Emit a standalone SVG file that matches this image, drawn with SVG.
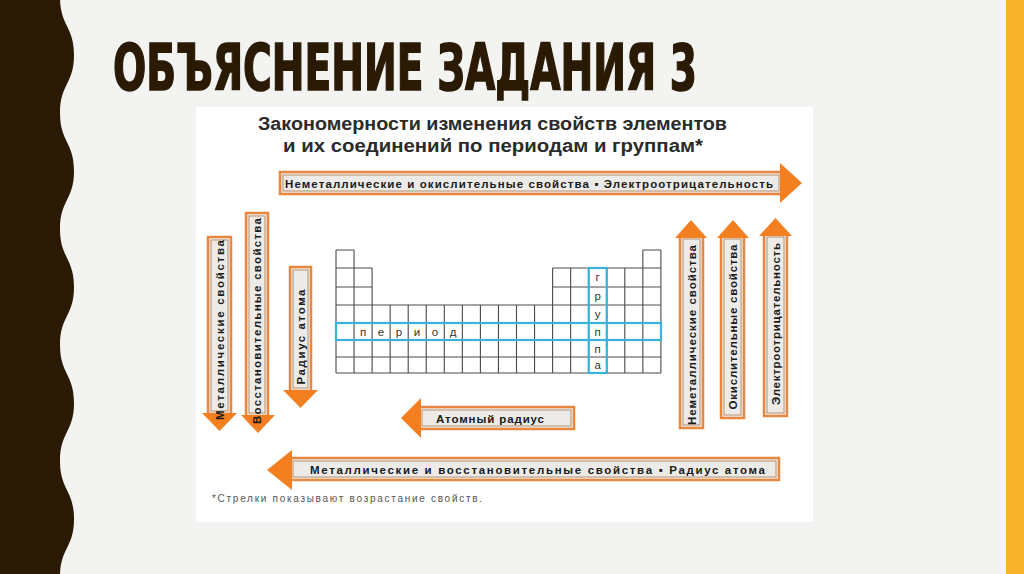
<svg xmlns="http://www.w3.org/2000/svg" width="1024" height="574" viewBox="0 0 1024 574">
<style>
.title{font-family:"DejaVu Sans Condensed","Liberation Sans Narrow","Liberation Sans",sans-serif;font-weight:900;font-size:64px;fill:#2a1a03;stroke:#2a1a03;stroke-width:1.6}
.hdr{font-family:"Liberation Sans",Arial,sans-serif;font-weight:bold;font-size:17.5px;fill:#2b2b2b}
.lbl{font-family:"Liberation Sans",Arial,sans-serif;font-weight:bold;font-size:11.5px;fill:#1a1a1a}
.cell{font-family:"Liberation Sans",Arial,sans-serif;font-size:11.5px;fill:#333}
.note{font-family:"Liberation Sans",Arial,sans-serif;font-size:10px;fill:#555}
.ab{fill:#ecebe7;stroke:#e8873f;stroke-width:2.5}
.ai{fill:none;stroke:#a86a3a;stroke-width:0.7}
.ah{fill:#f47f20}
.grid{fill:none;stroke:#4a4a4a;stroke-width:1.1}
.hl{fill:none;stroke:#3ab2dc;stroke-width:2.2}
</style>
<rect width="1024" height="574" fill="#f3f3f1"/>
<path d="M0,-3 L60,-3 C60,26 74,26 74,55 C74,84 60,84 60,113 C60,142 74,142 74,171 C74,200 60,200 60,229 C60,258 74,258 74,287 C74,316 60,316 60,345 C60,374 74,374 74,403 C74,432 60,432 60,461 C60,490 74,490 74,519 C74,548 60,548 60,577 L0,577 Z" fill="#2a1a03"/>
<rect x="1006" y="0" width="18" height="574" fill="#f7b42c"/>
<text class="title" x="113" y="90" textLength="584" lengthAdjust="spacingAndGlyphs">ОБЪЯСНЕНИЕ ЗАДАНИЯ 3</text>
<rect x="196" y="107" width="617" height="415" fill="#ffffff"/>
<g id="header">
<text class="hdr" x="258" y="130" textLength="469" lengthAdjust="spacingAndGlyphs">Закономерности изменения свойств элементов</text>
<text class="hdr" x="283" y="152" textLength="420" lengthAdjust="spacingAndGlyphs">и их соединений по периодам и группам*</text>
</g>
<g id="table">
<path class="grid" d="M336,250H354.05 M642.85,250H660.9 M336,268H372.1 M552.6,268H660.9 M336,287H372.1 M552.6,287H660.9 M336,305H660.9 M336,323H660.9 M336,340H660.9 M336,357H660.9 M336,373H660.9 M336,250V373 M354.05,250V373 M372.1,268V373 M390.15,305V373 M408.2,305V373 M426.25,305V373 M444.3,305V373 M462.35,305V373 M480.4,305V373 M498.45,305V373 M516.5,305V373 M534.55,305V373 M552.6,268V373 M570.65,268V373 M588.7,268V373 M606.75,268V373 M624.8,268V373 M642.85,250V373 M660.9,250V373"/>
<rect class="hl" x="336" y="323" width="325" height="17"/>
<rect class="hl" x="588.7" y="268" width="18.05" height="105"/>
<g class="cell" text-anchor="middle">
<text x="363" y="335.5">п</text><text x="381" y="335.5">е</text><text x="399" y="335.5">р</text><text x="417" y="335.5">и</text><text x="435" y="335.5">о</text><text x="453" y="335.5">д</text>
<text x="597.7" y="281">г</text><text x="597.7" y="300">р</text><text x="597.7" y="318">у</text><text x="597.7" y="335.5">п</text><text x="597.7" y="352.5">п</text><text x="597.7" y="369">а</text>
</g>
</g>
<g id="arrow-top">
<rect class="ab" x="280" y="172" width="502" height="22"/>
<rect class="ai" x="283" y="175" width="496" height="16"/>
<polygon class="ah" points="780,163 802,183 780,203"/>
<text class="lbl" x="285" y="187.5" textLength="488" lengthAdjust="spacing">Неметаллические и окислительные свойства ▪ Электроотрицательность</text>
</g>
<g id="arrow-metal">
<rect class="ab" x="208" y="237" width="23" height="177"/>
<rect class="ai" x="211" y="240" width="17" height="171"/>
<polygon class="ah" points="202,413 237,413 219.5,431"/>
<text class="lbl" transform="translate(223.8,330) rotate(-90)" text-anchor="middle" textLength="180" lengthAdjust="spacing">Металлические свойства</text>
</g>
<g id="arrow-reduct">
<rect class="ab" x="246" y="213" width="22" height="203"/>
<rect class="ai" x="249" y="216" width="16" height="197"/>
<polygon class="ah" points="241,415 275,415 258,433"/>
<text class="lbl" transform="translate(261.3,321) rotate(-90)" text-anchor="middle" textLength="206" lengthAdjust="spacing">Восстановительные свойства</text>
</g>
<g id="arrow-radius-v">
<rect class="ab" x="290" y="267" width="21" height="124"/>
<rect class="ai" x="293" y="270" width="15" height="118"/>
<polygon class="ah" points="283,390 318,390 300.5,408"/>
<text class="lbl" transform="translate(304.8,337) rotate(-90)" text-anchor="middle" textLength="95" lengthAdjust="spacing">Радиус атома</text>
</g>
<g id="arrow-nonmetal">
<rect class="ab" x="680" y="236" width="23" height="192"/>
<rect class="ai" x="683" y="239" width="17" height="186"/>
<polygon class="ah" points="675,238 707,238 691,220"/>
<text class="lbl" transform="translate(695.8,335) rotate(-90)" text-anchor="middle" textLength="180" lengthAdjust="spacing">Неметаллические свойства</text>
</g>
<g id="arrow-oxid">
<rect class="ab" x="721" y="236" width="23" height="182"/>
<rect class="ai" x="724" y="239" width="17" height="176"/>
<polygon class="ah" points="717,238 749,238 733,220"/>
<text class="lbl" transform="translate(736.8,327) rotate(-90)" text-anchor="middle" textLength="165" lengthAdjust="spacing">Окислительные свойства</text>
</g>
<g id="arrow-electroneg">
<rect class="ab" x="764" y="234" width="23" height="182"/>
<rect class="ai" x="767" y="237" width="17" height="176"/>
<polygon class="ah" points="759,236 792,236 775.5,218"/>
<text class="lbl" transform="translate(779.8,324) rotate(-90)" text-anchor="middle" textLength="162" lengthAdjust="spacing">Электроотрицательность</text>
</g>
<g id="arrow-atomic-radius">
<rect class="ab" x="419" y="407" width="155" height="22"/>
<rect class="ai" x="422" y="410" width="149" height="16"/>
<polygon class="ah" points="421,398 401,418 421,438"/>
<text class="lbl" x="490" y="422.5" text-anchor="middle" textLength="108" lengthAdjust="spacing">Атомный радиус</text>
</g>
<g id="arrow-bottom">
<rect class="ab" x="290" y="458" width="489" height="22"/>
<rect class="ai" x="293" y="461" width="483" height="16"/>
<polygon class="ah" points="292,450 267,470 292,490"/>
<text class="lbl" x="310" y="473.5" textLength="455" lengthAdjust="spacing">Металлические и восстановительные свойства ▪ Радиус атома</text>
</g>
<text class="note" x="212" y="502" textLength="270" lengthAdjust="spacing">*Стрелки показывают возрастание свойств.</text>
</svg>
